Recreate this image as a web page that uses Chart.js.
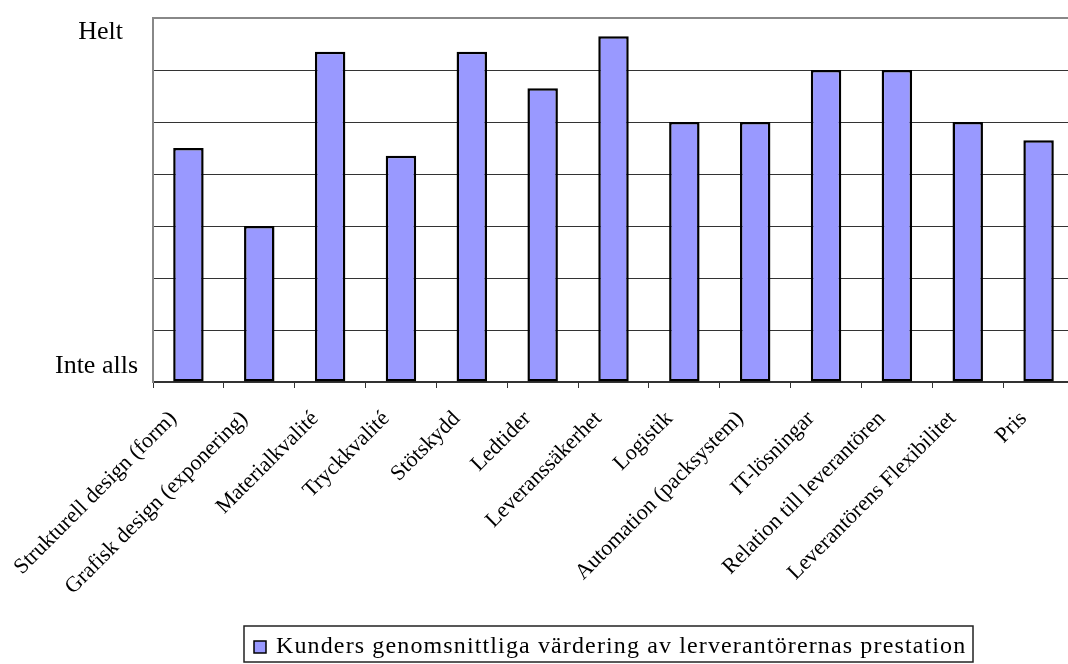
<!DOCTYPE html>
<html>
<head>
<meta charset="utf-8">
<script src="https://cdn.jsdelivr.net/npm/chart.js@4/dist/chart.umd.min.js"></script>
<style>
  html, body { margin: 0; padding: 0; background: #fff; overflow: hidden; }
  #wrap { position: relative; width: 1080px; height: 664px; }
</style>
</head>
<body>
<div id="wrap"><canvas id="c" width="1080" height="664"></canvas></div>
<script>
// Survey categories (x axis)
const categories = [
  'Strukturell design (form)',
  'Grafisk design (exponering)',
  'Materialkvalité',
  'Tryckkvalité',
  'Stötskydd',
  'Ledtider',
  'Leveranssäkerhet',
  'Logistik',
  'Automation (packsystem)',
  'IT-lösningar',
  'Relation till leverantören',
  'Leverantörens Flexibilitet',
  'Pris'
];

// Average customer rating per category (scale 0–7)
const ratings = [4.5, 3.0, 6.35, 4.35, 6.35, 5.65, 6.65, 5.0, 5.0, 6.0, 6.0, 5.0, 4.65];

// Scale end labels
const scaleTop = 'Helt';
const scaleBottom = 'Inte alls';

const seriesName = 'Kunders genomsnittliga värdering av lerverantörernas prestation';

const SERIF = '"Liberation Serif", "Times New Roman", serif';
const barFill = '#9999FF';

// Draws the scale end labels and the boxed legend
const annotations = {
  id: 'annotations',
  afterDraw(chart) {
    const ctx = chart.ctx;
    const y = chart.scales.y;
    ctx.save();
    ctx.fillStyle = '#000';
    ctx.font = '26px ' + SERIF;
    ctx.textAlign = 'right';
    ctx.textBaseline = 'middle';
    ctx.fillText(scaleTop, chart.chartArea.left - 30, y.getPixelForValue(6.73));
    ctx.fillText(scaleBottom, chart.chartArea.left - 15, y.getPixelForValue(0.3));

    // legend box
    const bx = 244, by = 626, bw = 729, bh = 36;
    ctx.strokeStyle = '#222';
    ctx.lineWidth = 1.5;
    ctx.strokeRect(bx, by, bw, bh);
    ctx.fillStyle = barFill;
    ctx.fillRect(254, 641, 12, 12);
    ctx.strokeStyle = '#000';
    ctx.lineWidth = 1.5;
    ctx.strokeRect(254, 641, 12, 12);

    ctx.fillStyle = '#000';
    ctx.font = '24px ' + SERIF;
    ctx.textAlign = 'left';
    ctx.textBaseline = 'alphabetic';
    const textLeft = 276, textRight = 965;
    const natural = ctx.measureText(seriesName).width;
    const spacing = Math.max(0, (textRight - textLeft - natural) / (seriesName.length - 1));
    ctx.letterSpacing = spacing.toFixed(2) + 'px';
    ctx.fillText(seriesName, textLeft, 653);
    ctx.restore();
  }
};

new Chart(document.getElementById('c'), {
  type: 'bar',
  data: {
    labels: categories,
    datasets: [{
      label: seriesName,
      data: ratings,
      backgroundColor: barFill,
      borderColor: '#000',
      borderWidth: 2.5,
      borderSkipped: false,
      barPercentage: 0.43,
      categoryPercentage: 1.0
    }]
  },
  options: {
    responsive: false,
    animation: false,
    devicePixelRatio: 1,
    layout: { padding: { top: 18, right: 6, left: 0, bottom: 0 } },
    plugins: {
      legend: { display: false },
      tooltip: { enabled: false }
    },
    scales: {
      x: {
        offset: true,
        grid: {
          offset: true,
          drawOnChartArea: false,
          drawTicks: true,
          tickLength: 6,
          color: '#333',
          lineWidth: 1
        },
        border: { color: '#333', width: 2 },
        ticks: {
          minRotation: 45,
          maxRotation: 45,
          autoSkip: false,
          padding: 18,
          labelOffset: -15,
          color: '#000',
          font: { family: SERIF, size: 22 }
        },
        afterFit(scale) {
          scale.height = 282;
          scale.paddingLeft = 0;
          scale.paddingRight = 0;
        }
      },
      y: {
        min: 0,
        max: 7,
        ticks: { display: false, stepSize: 1 },
        grid: {
          drawTicks: false,
          color: (c) => (c.tick && c.tick.value === 7 ? '#888' : '#333'),
          lineWidth: (c) => (c.tick && c.tick.value === 7 ? 2 : 1)
        },
        border: { color: '#888', width: 2 },
        afterFit(scale) { scale.width = 153; }
      }
    }
  },
  plugins: [annotations]
});
</script>
</body>
</html>
